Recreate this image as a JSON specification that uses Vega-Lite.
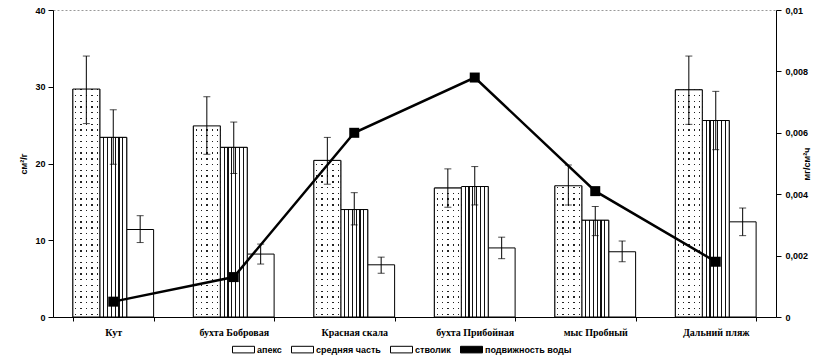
{
  "$schema": "https://vega.github.io/schema/vega-lite/v6.json",
  "width": 723,
  "height": 307,
  "autosize": "none",
  "padding": {"left": 53, "top": 10, "right": 62, "bottom": 46},
  "background": "white",
  "datasets": {
    "bars": [
      {"site": "Кут", "series": "апекс", "value": 29.7, "lo": 25.2, "hi": 34.0},
      {"site": "Кут", "series": "средняя часть", "value": 23.4, "lo": 19.9, "hi": 27.0},
      {"site": "Кут", "series": "стволик", "value": 11.4, "lo": 9.7, "hi": 13.2},
      {"site": "бухта Бобровая", "series": "апекс", "value": 24.9, "lo": 21.2, "hi": 28.7},
      {"site": "бухта Бобровая", "series": "средняя часть", "value": 22.1, "lo": 18.7, "hi": 25.4},
      {"site": "бухта Бобровая", "series": "стволик", "value": 8.2, "lo": 6.9, "hi": 9.5},
      {"site": "Красная скала", "series": "апекс", "value": 20.4, "lo": 17.3, "hi": 23.4},
      {"site": "Красная скала", "series": "средняя часть", "value": 14.0, "lo": 12.0, "hi": 16.2},
      {"site": "Красная скала", "series": "стволик", "value": 6.8, "lo": 5.7, "hi": 7.8},
      {"site": "бухта Прибойная", "series": "апекс", "value": 16.8, "lo": 14.3, "hi": 19.3},
      {"site": "бухта Прибойная", "series": "средняя часть", "value": 17.0, "lo": 14.6, "hi": 19.6},
      {"site": "бухта Прибойная", "series": "стволик", "value": 9.0, "lo": 7.6, "hi": 10.4},
      {"site": "мыс Пробный", "series": "апекс", "value": 17.1, "lo": 14.6, "hi": 19.8},
      {"site": "мыс Пробный", "series": "средняя часть", "value": 12.6, "lo": 10.6, "hi": 14.4},
      {"site": "мыс Пробный", "series": "стволик", "value": 8.5, "lo": 7.2, "hi": 9.9},
      {"site": "Дальний пляж", "series": "апекс", "value": 29.6, "lo": 25.1, "hi": 34.0},
      {"site": "Дальний пляж", "series": "средняя часть", "value": 25.6, "lo": 21.8, "hi": 29.4},
      {"site": "Дальний пляж", "series": "стволик", "value": 12.4, "lo": 10.6, "hi": 14.2}
    ],
    "water": [
      {"site": "Кут", "mobility": 0.0005},
      {"site": "бухта Бобровая", "mobility": 0.0013},
      {"site": "Красная скала", "mobility": 0.006},
      {"site": "бухта Прибойная", "mobility": 0.0078},
      {"site": "мыс Пробный", "mobility": 0.0041},
      {"site": "Дальний пляж", "mobility": 0.0018}
    ]
  },
  "encoding": {
    "x": {
      "field": "site",
      "type": "nominal",
      "sort": ["Кут", "бухта Бобровая", "Красная скала", "бухта Прибойная", "мыс Пробный", "Дальний пляж"],
      "scale": {"paddingInner": 0.33, "paddingOuter": 0.165},
      "axis": {"title": null, "labelAngle": 0, "labelFont": "Liberation Serif", "labelFontSize": 10, "labelPadding": 6, "tickSize": 4, "tickBand": "extent"}
    }
  },
  "layer": [
    {
      "layer": [
        {
          "data": {"name": "bars"},
          "mark": {"type": "bar", "stroke": "#000", "strokeWidth": 1},
          "encoding": {
            "xOffset": {"field": "series", "type": "nominal", "sort": ["апекс", "средняя часть", "стволик"], "scale": {"domain": ["апекс", "средняя часть", "стволик"], "paddingInner": 0, "paddingOuter": 0}},
            "y": {"field": "value", "type": "quantitative", "title": "см²/г", "scale": {"domain": [0, 40]}, "axis": {"values": [0, 10, 20, 30, 40], "tickSize": 5, "labelPadding": 3, "titlePadding": 6}},
            "color": {
              "field": "series",
              "type": "nominal",
              "scale": {"domain": ["апекс", "средняя часть", "стволик", "подвижность воды"], "range": ["#ffffff", "#ffffff", "#ffffff", "#000000"]},
              "legend": {
                "title": null,
                "orient": "none",
                "direction": "horizontal",
                "legendX": 179,
                "legendY": 328,
                "symbolSize": 484,
                "symbolType": "M-1,-0.3H1V0.3H-1Z",
                "symbolStrokeColor": "#000",
                "symbolStrokeWidth": 1,
                "symbolOpacity": 1,
                "labelOffset": 2,
                "columnPadding": 7,
                "labelFont": "Liberation Sans",
                "labelFontWeight": "bold",
                "labelFontSize": 9,
                "labelColor": "#000"
              }
            }
          }
        },
        {
          "data": {"name": "bars"},
          "transform": [{"filter": "datum.series === 'средняя часть'"}],
          "mark": {"type": "bar", "stroke": "#000", "strokeWidth": 1, "fill": {"gradient": "linear", "x1": 0, "y1": 0, "x2": 1, "y2": 0, "stops": [
            {"offset": 0, "color": "#fff"}, {"offset": 0.121, "color": "#fff"}, {"offset": 0.121, "color": "#111"}, {"offset": 0.165, "color": "#111"},
            {"offset": 0.165, "color": "#fff"}, {"offset": 0.264, "color": "#fff"}, {"offset": 0.264, "color": "#111"}, {"offset": 0.308, "color": "#111"},
            {"offset": 0.308, "color": "#fff"}, {"offset": 0.407, "color": "#fff"}, {"offset": 0.407, "color": "#111"}, {"offset": 0.451, "color": "#111"},
            {"offset": 0.451, "color": "#fff"}, {"offset": 0.549, "color": "#fff"}, {"offset": 0.549, "color": "#111"}, {"offset": 0.593, "color": "#111"},
            {"offset": 0.593, "color": "#fff"}, {"offset": 0.692, "color": "#fff"}, {"offset": 0.692, "color": "#111"}, {"offset": 0.736, "color": "#111"},
            {"offset": 0.736, "color": "#fff"}, {"offset": 0.835, "color": "#fff"}, {"offset": 0.835, "color": "#111"}, {"offset": 0.879, "color": "#111"},
            {"offset": 0.879, "color": "#fff"}, {"offset": 1, "color": "#fff"}]}},
          "encoding": {
            "xOffset": {"field": "series", "type": "nominal"},
            "y": {"field": "value", "type": "quantitative", "title": "см²/г"}
          }
        },
        {
          "data": {"name": "bars"},
          "transform": [{"filter": "datum.series === 'апекс'"}],
          "mark": {"type": "bar", "strokeWidth": 0, "fill": {"gradient": "linear", "x1": 0, "y1": 0, "x2": 1, "y2": 0, "stops": [
            {"offset": 0, "color": "#fff"}, {"offset": 0.08, "color": "#fff"}, {"offset": 0.08, "color": "#222"}, {"offset": 0.13, "color": "#222"},
            {"offset": 0.13, "color": "#fff"}, {"offset": 0.28, "color": "#fff"}, {"offset": 0.28, "color": "#222"}, {"offset": 0.33, "color": "#222"},
            {"offset": 0.33, "color": "#fff"}, {"offset": 0.48, "color": "#fff"}, {"offset": 0.48, "color": "#222"}, {"offset": 0.53, "color": "#222"},
            {"offset": 0.53, "color": "#fff"}, {"offset": 0.68, "color": "#fff"}, {"offset": 0.68, "color": "#222"}, {"offset": 0.73, "color": "#222"},
            {"offset": 0.73, "color": "#fff"}, {"offset": 0.88, "color": "#fff"}, {"offset": 0.88, "color": "#222"}, {"offset": 0.93, "color": "#222"},
            {"offset": 0.93, "color": "#fff"}, {"offset": 1, "color": "#fff"}]}},
          "encoding": {
            "xOffset": {"field": "series", "type": "nominal"},
            "y": {"field": "value", "type": "quantitative", "title": "см²/г"}
          }
        },
        {
          "data": {"name": "bars"},
          "transform": [{"filter": "datum.series === 'апекс'"}],
          "mark": {"type": "bar", "strokeWidth": 0, "fill": {"gradient": "linear", "x1": 0, "y1": 0, "x2": 0, "y2": 1, "stops": [
            {"offset": 0, "color": "#fff"},
            {"offset": 0.01, "color": "#fff"}, {"offset": 0.01, "color": "rgba(255,255,255,0)"}, {"offset": 0.016, "color": "rgba(255,255,255,0)"}, {"offset": 0.016, "color": "#fff"},
            {"offset": 0.035, "color": "#fff"}, {"offset": 0.035, "color": "rgba(255,255,255,0)"}, {"offset": 0.041, "color": "rgba(255,255,255,0)"}, {"offset": 0.041, "color": "#fff"},
            {"offset": 0.06, "color": "#fff"}, {"offset": 0.06, "color": "rgba(255,255,255,0)"}, {"offset": 0.066, "color": "rgba(255,255,255,0)"}, {"offset": 0.066, "color": "#fff"},
            {"offset": 0.085, "color": "#fff"}, {"offset": 0.085, "color": "rgba(255,255,255,0)"}, {"offset": 0.091, "color": "rgba(255,255,255,0)"}, {"offset": 0.091, "color": "#fff"},
            {"offset": 0.11, "color": "#fff"}, {"offset": 0.11, "color": "rgba(255,255,255,0)"}, {"offset": 0.116, "color": "rgba(255,255,255,0)"}, {"offset": 0.116, "color": "#fff"},
            {"offset": 0.135, "color": "#fff"}, {"offset": 0.135, "color": "rgba(255,255,255,0)"}, {"offset": 0.141, "color": "rgba(255,255,255,0)"}, {"offset": 0.141, "color": "#fff"},
            {"offset": 0.16, "color": "#fff"}, {"offset": 0.16, "color": "rgba(255,255,255,0)"}, {"offset": 0.166, "color": "rgba(255,255,255,0)"}, {"offset": 0.166, "color": "#fff"},
            {"offset": 0.185, "color": "#fff"}, {"offset": 0.185, "color": "rgba(255,255,255,0)"}, {"offset": 0.191, "color": "rgba(255,255,255,0)"}, {"offset": 0.191, "color": "#fff"},
            {"offset": 0.21, "color": "#fff"}, {"offset": 0.21, "color": "rgba(255,255,255,0)"}, {"offset": 0.216, "color": "rgba(255,255,255,0)"}, {"offset": 0.216, "color": "#fff"},
            {"offset": 0.235, "color": "#fff"}, {"offset": 0.235, "color": "rgba(255,255,255,0)"}, {"offset": 0.241, "color": "rgba(255,255,255,0)"}, {"offset": 0.241, "color": "#fff"},
            {"offset": 0.26, "color": "#fff"}, {"offset": 0.26, "color": "rgba(255,255,255,0)"}, {"offset": 0.266, "color": "rgba(255,255,255,0)"}, {"offset": 0.266, "color": "#fff"},
            {"offset": 0.285, "color": "#fff"}, {"offset": 0.285, "color": "rgba(255,255,255,0)"}, {"offset": 0.291, "color": "rgba(255,255,255,0)"}, {"offset": 0.291, "color": "#fff"},
            {"offset": 0.31, "color": "#fff"}, {"offset": 0.31, "color": "rgba(255,255,255,0)"}, {"offset": 0.316, "color": "rgba(255,255,255,0)"}, {"offset": 0.316, "color": "#fff"},
            {"offset": 0.335, "color": "#fff"}, {"offset": 0.335, "color": "rgba(255,255,255,0)"}, {"offset": 0.341, "color": "rgba(255,255,255,0)"}, {"offset": 0.341, "color": "#fff"},
            {"offset": 0.36, "color": "#fff"}, {"offset": 0.36, "color": "rgba(255,255,255,0)"}, {"offset": 0.366, "color": "rgba(255,255,255,0)"}, {"offset": 0.366, "color": "#fff"},
            {"offset": 0.385, "color": "#fff"}, {"offset": 0.385, "color": "rgba(255,255,255,0)"}, {"offset": 0.391, "color": "rgba(255,255,255,0)"}, {"offset": 0.391, "color": "#fff"},
            {"offset": 0.41, "color": "#fff"}, {"offset": 0.41, "color": "rgba(255,255,255,0)"}, {"offset": 0.416, "color": "rgba(255,255,255,0)"}, {"offset": 0.416, "color": "#fff"},
            {"offset": 0.435, "color": "#fff"}, {"offset": 0.435, "color": "rgba(255,255,255,0)"}, {"offset": 0.441, "color": "rgba(255,255,255,0)"}, {"offset": 0.441, "color": "#fff"},
            {"offset": 0.46, "color": "#fff"}, {"offset": 0.46, "color": "rgba(255,255,255,0)"}, {"offset": 0.466, "color": "rgba(255,255,255,0)"}, {"offset": 0.466, "color": "#fff"},
            {"offset": 0.485, "color": "#fff"}, {"offset": 0.485, "color": "rgba(255,255,255,0)"}, {"offset": 0.491, "color": "rgba(255,255,255,0)"}, {"offset": 0.491, "color": "#fff"},
            {"offset": 0.51, "color": "#fff"}, {"offset": 0.51, "color": "rgba(255,255,255,0)"}, {"offset": 0.516, "color": "rgba(255,255,255,0)"}, {"offset": 0.516, "color": "#fff"},
            {"offset": 0.535, "color": "#fff"}, {"offset": 0.535, "color": "rgba(255,255,255,0)"}, {"offset": 0.541, "color": "rgba(255,255,255,0)"}, {"offset": 0.541, "color": "#fff"},
            {"offset": 0.56, "color": "#fff"}, {"offset": 0.56, "color": "rgba(255,255,255,0)"}, {"offset": 0.566, "color": "rgba(255,255,255,0)"}, {"offset": 0.566, "color": "#fff"},
            {"offset": 0.585, "color": "#fff"}, {"offset": 0.585, "color": "rgba(255,255,255,0)"}, {"offset": 0.591, "color": "rgba(255,255,255,0)"}, {"offset": 0.591, "color": "#fff"},
            {"offset": 0.61, "color": "#fff"}, {"offset": 0.61, "color": "rgba(255,255,255,0)"}, {"offset": 0.616, "color": "rgba(255,255,255,0)"}, {"offset": 0.616, "color": "#fff"},
            {"offset": 0.635, "color": "#fff"}, {"offset": 0.635, "color": "rgba(255,255,255,0)"}, {"offset": 0.641, "color": "rgba(255,255,255,0)"}, {"offset": 0.641, "color": "#fff"},
            {"offset": 0.66, "color": "#fff"}, {"offset": 0.66, "color": "rgba(255,255,255,0)"}, {"offset": 0.666, "color": "rgba(255,255,255,0)"}, {"offset": 0.666, "color": "#fff"},
            {"offset": 0.685, "color": "#fff"}, {"offset": 0.685, "color": "rgba(255,255,255,0)"}, {"offset": 0.691, "color": "rgba(255,255,255,0)"}, {"offset": 0.691, "color": "#fff"},
            {"offset": 0.71, "color": "#fff"}, {"offset": 0.71, "color": "rgba(255,255,255,0)"}, {"offset": 0.716, "color": "rgba(255,255,255,0)"}, {"offset": 0.716, "color": "#fff"},
            {"offset": 0.735, "color": "#fff"}, {"offset": 0.735, "color": "rgba(255,255,255,0)"}, {"offset": 0.741, "color": "rgba(255,255,255,0)"}, {"offset": 0.741, "color": "#fff"},
            {"offset": 0.76, "color": "#fff"}, {"offset": 0.76, "color": "rgba(255,255,255,0)"}, {"offset": 0.766, "color": "rgba(255,255,255,0)"}, {"offset": 0.766, "color": "#fff"},
            {"offset": 0.785, "color": "#fff"}, {"offset": 0.785, "color": "rgba(255,255,255,0)"}, {"offset": 0.791, "color": "rgba(255,255,255,0)"}, {"offset": 0.791, "color": "#fff"},
            {"offset": 0.81, "color": "#fff"}, {"offset": 0.81, "color": "rgba(255,255,255,0)"}, {"offset": 0.816, "color": "rgba(255,255,255,0)"}, {"offset": 0.816, "color": "#fff"},
            {"offset": 0.835, "color": "#fff"}, {"offset": 0.835, "color": "rgba(255,255,255,0)"}, {"offset": 0.841, "color": "rgba(255,255,255,0)"}, {"offset": 0.841, "color": "#fff"},
            {"offset": 0.86, "color": "#fff"}, {"offset": 0.86, "color": "rgba(255,255,255,0)"}, {"offset": 0.866, "color": "rgba(255,255,255,0)"}, {"offset": 0.866, "color": "#fff"},
            {"offset": 0.885, "color": "#fff"}, {"offset": 0.885, "color": "rgba(255,255,255,0)"}, {"offset": 0.891, "color": "rgba(255,255,255,0)"}, {"offset": 0.891, "color": "#fff"},
            {"offset": 0.91, "color": "#fff"}, {"offset": 0.91, "color": "rgba(255,255,255,0)"}, {"offset": 0.916, "color": "rgba(255,255,255,0)"}, {"offset": 0.916, "color": "#fff"},
            {"offset": 0.935, "color": "#fff"}, {"offset": 0.935, "color": "rgba(255,255,255,0)"}, {"offset": 0.941, "color": "rgba(255,255,255,0)"}, {"offset": 0.941, "color": "#fff"},
            {"offset": 0.96, "color": "#fff"}, {"offset": 0.96, "color": "rgba(255,255,255,0)"}, {"offset": 0.966, "color": "rgba(255,255,255,0)"}, {"offset": 0.966, "color": "#fff"},
            {"offset": 0.985, "color": "#fff"}, {"offset": 0.985, "color": "rgba(255,255,255,0)"}, {"offset": 0.991, "color": "rgba(255,255,255,0)"}, {"offset": 0.991, "color": "#fff"},
            {"offset": 1, "color": "#fff"}]}},
          "encoding": {
            "xOffset": {"field": "series", "type": "nominal"},
            "y": {"datum": 30, "type": "quantitative", "title": "см²/г"},
            "y2": {"datum": 0}
          }
        },
        {
          "data": {"name": "bars"},
          "transform": [{"filter": "datum.series === 'апекс'"}],
          "mark": {"type": "bar", "fill": "transparent", "stroke": "#000", "strokeWidth": 1},
          "encoding": {
            "xOffset": {"field": "series", "type": "nominal"},
            "y": {"field": "value", "type": "quantitative", "title": "см²/г"}
          }
        },
        {
          "data": {"name": "bars"},
          "mark": {"type": "rule", "color": "#000", "strokeWidth": 1},
          "encoding": {
            "xOffset": {"field": "series", "type": "nominal"},
            "y": {"field": "lo", "type": "quantitative", "title": "см²/г"},
            "y2": {"field": "hi"}
          }
        },
        {
          "data": {"name": "bars"},
          "mark": {"type": "tick", "color": "#000", "size": 7, "thickness": 1},
          "encoding": {
            "xOffset": {"field": "series", "type": "nominal"},
            "y": {"field": "lo", "type": "quantitative", "title": "см²/г"}
          }
        },
        {
          "data": {"name": "bars"},
          "mark": {"type": "tick", "color": "#000", "size": 7, "thickness": 1},
          "encoding": {
            "xOffset": {"field": "series", "type": "nominal"},
            "y": {"field": "hi", "type": "quantitative", "title": "см²/г"}
          }
        }
      ]
    },
    {
      "data": {"name": "water"},
      "layer": [
        {
          "mark": {"type": "line", "strokeWidth": 2.5, "color": "#000"},
          "encoding": {
            "y": {"field": "mobility", "type": "quantitative", "title": "мг/см²ч", "scale": {"domain": [0, 0.01]}, "axis": {"orient": "right", "values": [0, 0.002, 0.004, 0.006, 0.008, 0.01], "labelExpr": "replace(format(datum.value, '.3~f'), '.', ',')", "tickSize": 5, "labelPadding": 4, "titlePadding": 4, "titleAngle": 270}}
          }
        },
        {
          "mark": {"type": "point", "shape": "square", "filled": true, "size": 100, "opacity": 1},
          "encoding": {
            "y": {"field": "mobility", "type": "quantitative", "title": "мг/см²ч"},
            "color": {"datum": "подвижность воды", "type": "nominal"}
          }
        }
      ]
    }
  ],
  "resolve": {"scale": {"y": "independent"}},
  "config": {
    "font": "Liberation Sans",
    "view": {"stroke": "#999", "strokeDash": [2, 2]},
    "axis": {
      "grid": false,
      "labelFont": "Liberation Sans",
      "labelFontWeight": "bold",
      "labelFontSize": 9,
      "labelColor": "#000",
      "titleFont": "Liberation Sans",
      "titleFontSize": 9,
      "titleFontWeight": "bold",
      "titleColor": "#000",
      "domainColor": "#000",
      "tickColor": "#000"
    }
  }
}
